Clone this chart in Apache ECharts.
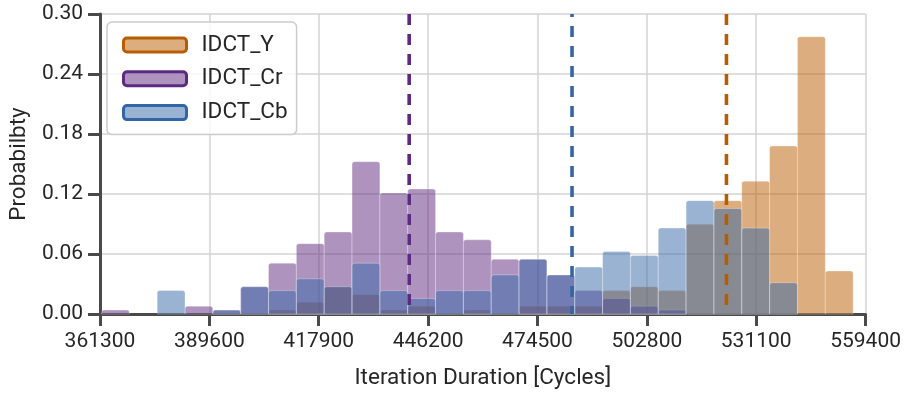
<!DOCTYPE html>
<html><head><meta charset="utf-8">
<script src="https://cdn.jsdelivr.net/npm/echarts@6/dist/echarts.min.js"></script>
<style>html,body{margin:0;padding:0;background:#fff}#chart{width:904px;height:396px}</style>
</head><body><div id="chart"></div>
<script>
// ---- data ----
const seriesNames = ['IDCT_Y', 'IDCT_Cr', 'IDCT_Cb'];
const binStart = 361690;   // left edge of first histogram bin (cycles)
const binWidth = 7203;     // bin width (cycles)
const probY  = [0,0,0,0,0,0,0.0039,0.0117,0.0273,0.0195,0.0039,0.0078,0,0.0039,0,0.0078,0.0078,0.0078,0.0234,0.0273,0.0234,0.0898,0.1133,0.1328,0.1680,0.2773,0.0430];
const probCr = [0.0039,0,0,0.0078,0.0039,0.0273,0.0508,0.0703,0.0820,0.1523,0.1211,0.1250,0.0820,0.0742,0.0547,0.0547,0.0391,0.0234,0.0156,0.0078,0.0039,0,0,0,0,0,0];
const probCb = [0,0,0.0234,0,0.0039,0.0273,0.0234,0.0352,0.0273,0.0508,0.0234,0.0156,0.0234,0.0234,0.0391,0.0547,0.0391,0.0469,0.0625,0.0586,0.0859,0.1133,0.1055,0.0859,0.0313,0,0];
const meanValues = [523400, 441300, 483440];
const xTickLabels = ['361300','389600','417900','446200','474500','502800','531100','559400'];
const yTickLabels = ['0.00','0.06','0.12','0.18','0.24','0.30'];
const xAxisTitle = 'Iteration Duration [Cycles]';
const yAxisTitle = 'Probabilbty';

// ---- styles ----
const edgeColors = ['#b85c00', '#5d2a82', '#3366a6'];
const fillColors = ['rgba(184,92,0,0.5)', 'rgba(93,39,125,0.5)', 'rgba(53,103,167,0.5)'];
const FONT = 'Roboto';
const TEXT = '#262626';
const AXIS = '#4a4a4a';

const origin = Number(xTickLabels[0]);
const xStep = Number(xTickLabels[1]) - origin;
const xMax = Number(xTickLabels[xTickLabels.length - 1]) - origin;
const yStep = Number(yTickLabels[1]);
const yMax = Number(yTickLabels[yTickLabels.length - 1]);

function binsData(probs) {
  return probs.map((p, i) => [binStart + i * binWidth - origin, binStart + (i + 1) * binWidth - origin, p])
              .filter(d => d[2] > 0);
}
function makeRender(fill) {
  return function (params, api) {
    const x0 = api.value(0), x1 = api.value(1), v = api.value(2);
    const a = api.coord([x0, v]), b = api.coord([x1, 0]);
    return {
      type: 'rect',
      shape: { x: a[0], y: a[1], width: b[0] - a[0], height: b[1] - a[1], r: [2.5, 2.5, 0, 0] },
      style: { fill: fill, stroke: 'rgba(255,255,255,0.3)', lineWidth: 1 }
    };
  };
}

const allProbs = [probY, probCr, probCb];
const series = [];
seriesNames.forEach((n, i) => {
  series.push({
    name: n, type: 'custom', renderItem: makeRender(fillColors[i]),
    itemStyle: { color: fillColors[i], borderColor: edgeColors[i] },
    encode: { x: [0, 1], y: 2 }, data: binsData(allProbs[i]), z: 2, silent: true
  });
});
seriesNames.forEach((n, i) => {
  series.push({
    name: n + ' mean', type: 'line', symbol: 'none', silent: true, z: 3,
    data: [[meanValues[i] - origin, yMax], [meanValues[i] - origin, 0]],
    lineStyle: { color: edgeColors[i], width: 3.6, type: [11, 9], cap: 'butt', dashOffset: i === 2 ? 8 : 0 }
  });
});

const chart = echarts.init(document.getElementById('chart'), null, { renderer: 'canvas' });
chart.setOption({
  animation: false,
  backgroundColor: '#ffffff',
  grid: { left: 100, top: 14, width: 766, height: 300, containLabel: false },
  xAxis: {
    type: 'value', min: 0, max: xMax, interval: xStep,
    name: xAxisTitle, nameLocation: 'middle', nameGap: 53,
    nameTextStyle: { fontFamily: FONT, fontSize: 22.5, color: TEXT },
    axisLine: { show: true, lineStyle: { color: AXIS, width: 3 } },
    axisTick: { show: true, length: 12, lineStyle: { color: AXIS, width: 3 } },
    axisLabel: { margin: 17, fontFamily: FONT, fontSize: 21, color: TEXT,
      formatter: (v) => xTickLabels[Math.round(v / xStep)] },
    splitLine: { show: true, lineStyle: { color: '#d3d3d3', width: 1.5 } }
  },
  yAxis: {
    type: 'value', min: 0, max: yMax, interval: yStep,
    name: yAxisTitle, nameLocation: 'middle', nameGap: 64,
    nameTextStyle: { fontFamily: FONT, fontSize: 22.5, color: TEXT },
    axisLine: { show: true, lineStyle: { color: AXIS, width: 3 } },
    axisTick: { show: true, length: 12, lineStyle: { color: AXIS, width: 3 } },
    axisLabel: { margin: 17, fontFamily: FONT, fontSize: 21, color: TEXT,
      formatter: (v) => yTickLabels[Math.round(v / yStep)] },
    splitLine: { show: true, lineStyle: { color: '#d3d3d3', width: 1.5 } }
  },
  legend: {
    orient: 'vertical', left: 107, top: 22,
    padding: [11.5, 9, 10.5, 15], itemGap: 10.8, itemWidth: 63, itemHeight: 14,
    icon: 'roundRect',
    backgroundColor: 'rgba(255,255,255,0.8)', borderColor: '#cccccc', borderWidth: 1.5, borderRadius: 5,
    textStyle: { fontFamily: FONT, fontSize: 22.5, color: TEXT, padding: [0, 0, 0, 10] },
    data: seriesNames.map((n, i) => ({ name: n, itemStyle: { color: fillColors[i], borderColor: edgeColors[i], borderWidth: 3 } }))
  },
  series: series
});
</script>
</body></html>
